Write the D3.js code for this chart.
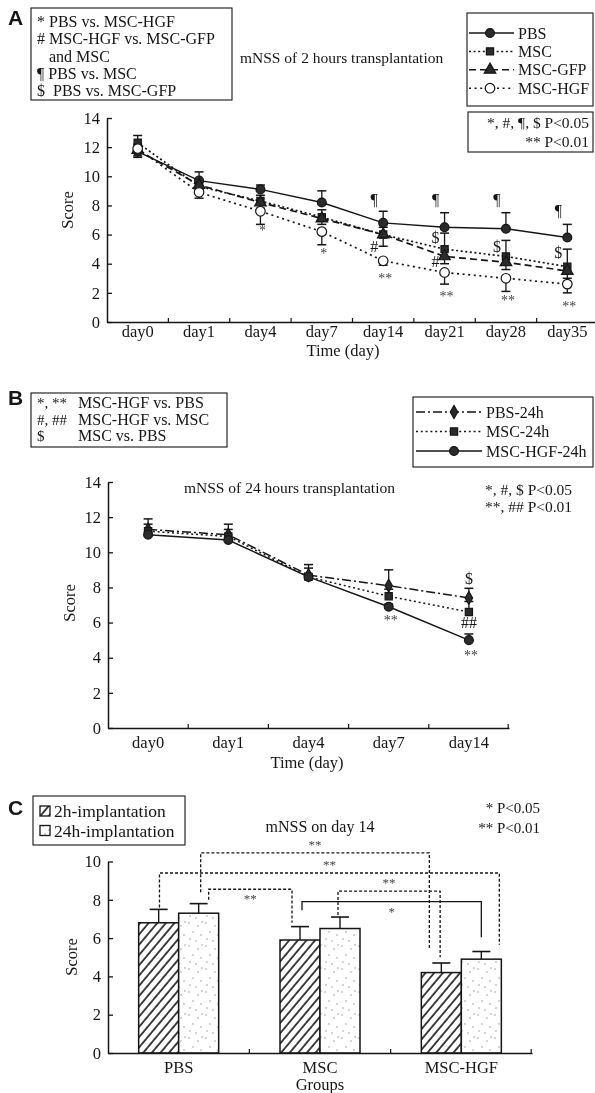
<!DOCTYPE html>
<html><head><meta charset="utf-8">
<script src="https://cdn.jsdelivr.net/npm/d3@7"></script>
<style>
html,body{margin:0;padding:0;background:#fff;}
#chart{filter:grayscale(100%);}
</style></head><body>
<svg id="chart" width="595" height="1093"></svg>
<script>
// ================= DATA =================
// Panel A: mNSS of 2 hours transplantation
const daysA   = ["day0","day1","day4","day7","day14","day21","day28","day35"];
const pbsA    = [11.7, 9.7, 9.1, 8.2, 6.8, 6.5, 6.4, 5.8];
const mscA    = [12.3, 9.3, 8.3, 7.2, 6.0, 5.0, 4.5, 3.8];
const gfpA    = [11.8, 9.4, 8.2, 7.1, 6.0, 4.5, 4.1, 3.5];
const hgfA    = [11.9, 8.9, 7.6, 6.2, 4.2, 3.4, 3.0, 2.6];
const pbsAErr = [0.5, 0.6, 0.3, 0.8, 0.8, 1.0, 1.1, 0.9];
const mscAErr = [0.5, 0.4, 0.4, 0.5, 0.5, 1.1, 1.1, 1.2];
const gfpAErr = [0.4, 0.3, 0.4, 0.4, 0.8, 0.5, 0.5, 0.5];
const hgfAErr = [0.6, 0.4, 0.9, 0.9, 0.3, 0.8, 0.9, 0.6];
const yTicksA = [0, 2, 4, 6, 8, 10, 12, 14];
const annotA  = [["day4","*",6.5],["day7","*",4.9],["day14","**",3.2],["day21","**",2.0],
                 ["day28","**",1.7],["day35","**",1.3],
                 ["day14","¶",8.4],["day21","¶",8.4],["day28","¶",8.4],["day35","¶",7.7],
                 ["day21","$",5.8],["day28","$",5.2],["day35","$",4.8],
                 ["day14","#",5.2],["day21","#",4.2]];
const namesA  = ["PBS","MSC","MSC-GFP","MSC-HGF"];
const compA   = ["* PBS vs. MSC-HGF","# MSC-HGF vs. MSC-GFP","   and MSC","¶ PBS vs. MSC","$  PBS vs. MSC-GFP"];
const pA      = ["*, #, ¶, $ P<0.05","** P<0.01"];

// Panel B: mNSS of 24 hours transplantation
const daysB   = ["day0","day1","day4","day7","day14"];
const pbsB    = [11.3, 11.0, 8.7, 8.1, 7.4];
const mscB    = [11.2, 10.9, 8.6, 7.5, 6.6];
const hgfB    = [11.0, 10.7, 8.6, 6.9, 5.0];
const pbsBErr = [0.6, 0.6, 0.6, 0.9, 0.55];
const mscBErr = [0.4, 0.4, 0.5, 0.4, 0.6];
const hgfBErr = [0.15, 0.15, 0.15, 0.15, 0.35];
const yTicksB = [0, 2, 4, 6, 8, 10, 12, 14];
const annotB  = [["day7","**",6.3],["day14","$",8.5],["day14","##",6.0],["day14","**",4.3]];
const namesB  = ["PBS-24h","MSC-24h","MSC-HGF-24h"];
const compB   = [["*, **","MSC-HGF vs. PBS"],["#, ##","MSC-HGF vs. MSC"],["$","MSC vs. PBS"]];
const pB      = ["*, #, $ P<0.05","**, ## P<0.01"];

// Panel C: mNSS on day 14
const groupsC = ["PBS","MSC","MSC-HGF"];
const h2C     = [6.8, 5.9, 4.2];
const h24C    = [7.3, 6.5, 4.9];
const h2CErr  = [0.7, 0.7, 0.5];
const h24CErr = [0.5, 0.6, 0.4];
const yTicksC = [0, 2, 4, 6, 8, 10];
const seriesC = ["2h-implantation","24h-implantation"];
// significance brackets: [from group, from series(0=2h,1=24h), to group, to series, bracket level, label, dotted?]
const bracketsC = [
  ["PBS",1,"MSC-HGF",0,10.45,"**",true],
  ["PBS",0,"MSC-HGF",1,9.4,"**",true],
  ["PBS",1,"MSC",0,8.55,"**",true],
  ["MSC",1,"MSC-HGF",0,8.45,"**",true],
  ["MSC",0,"MSC-HGF",1,7.9,"*",false]
];
const legBottomsC = [[8.4,5.4],[7.6,5.65],[8.0,6.8],[7.2,5.0],[7.45,6.05]];
const pC      = ["* P<0.05","** P<0.01"];

// ================= DRAWING =================
const INK = "#151515";
const SERIF = '"Liberation Serif","Times New Roman",serif';
const SANS = '"Liberation Sans",Arial,sans-serif';
const svg = d3.select("#chart");
svg.append("rect").attr("width",595).attr("height",1093).attr("fill","#fff");

// patterns
const defs = svg.append("defs");
const hatch = defs.append("pattern").attr("id","hatch").attr("patternUnits","userSpaceOnUse")
  .attr("width",6.6).attr("height",6.6).attr("patternTransform","rotate(40)");
hatch.append("rect").attr("width",6.6).attr("height",6.6).attr("fill","#fff");
hatch.append("line").attr("x1",1).attr("x2",1).attr("y1",0).attr("y2",6.6).attr("stroke",INK).attr("stroke-width",1.6);
const dots = defs.append("pattern").attr("id","dots").attr("patternUnits","userSpaceOnUse")
  .attr("width",17).attr("height",23);
dots.append("rect").attr("width",17).attr("height",23).attr("fill","#fff");
[[2,3],[11,6],[6,12],[14,15],[3,19],[9,21],[15,2]].forEach(p=>{
  dots.append("circle").attr("cx",p[0]).attr("cy",p[1]).attr("r",0.7).attr("fill","#8a8a8a");
});

function txt(g,x,y,s,o={}){
  return g.append("text").attr("x",x).attr("y",y).text(s)
    .attr("font-family",o.ff||SERIF).attr("font-size",o.fs||16)
    .attr("text-anchor",o.anchor||"start").attr("font-weight",o.fw||"normal")
    .attr("fill",o.fill||INK).style("white-space","pre");
}
function box(g,x0,y0,x1,y1){
  g.append("rect").attr("x",x0).attr("y",y0).attr("width",x1-x0).attr("height",y1-y0)
    .attr("fill","none").attr("stroke",INK).attr("stroke-width",1.1);
}
function axes(g,x,y,yTicks,xPad){
  const gy = g.append("g").attr("transform",`translate(${x.range()[0]},0)`)
    .call(d3.axisLeft(y).tickValues(yTicks).tickSizeInner(-5).tickSizeOuter(0).tickPadding(7));
  gy.attr("font-family",SERIF).attr("font-size",16.5);
  gy.select(".domain").attr("stroke",INK).attr("stroke-width",1.5);
  gy.selectAll(".tick line").attr("stroke",INK).attr("stroke-width",1.3);
  gy.selectAll(".tick text").attr("fill",INK);
  const gx = g.append("g").attr("transform",`translate(0,${y.range()[0]})`)
    .call(d3.axisBottom(x).tickSize(0).tickPadding(xPad));
  gx.attr("font-family",SERIF).attr("font-size",16.5);
  gx.select(".domain").attr("stroke",INK).attr("stroke-width",1.5);
  gx.selectAll(".tick text").attr("fill",INK);
  const bounds = x.domain().slice(1).map(d=>x(d)).concat([x.range()[1]-0.8]);
  g.append("g").selectAll("line").data(bounds).join("line")
    .attr("x1",d=>d).attr("x2",d=>d).attr("y1",y.range()[0]).attr("y2",y.range()[0]-4)
    .attr("stroke",INK).attr("stroke-width",1.2);
}
function yTitle(g,x,y,s){
  txt(g,0,0,s,{fs:16.5,anchor:"middle"}).attr("transform",`translate(${x},${y}) rotate(-90)`);
}
const symMap = {circle:d3.symbolCircle,square:d3.symbolSquare,triangle:d3.symbolTriangle,diamond:d3.symbolDiamond,open:d3.symbolCircle};
const symSize = {circle:62,square:52,triangle:58,diamond:48,open:72};
function marker(g,type,x,y){
  g.append("path").attr("d",d3.symbol(symMap[type],symSize[type])())
    .attr("transform",`translate(${x},${y})`)
    .attr("fill",type==="open"?"#fff":"#2b2b2b").attr("stroke",INK).attr("stroke-width",1.2);
}
function errBars(g,x,y,cats,vals,errs,dir,cap){
  cats.forEach((c,i)=>{
    const cx = x(c)+x.bandwidth()/2, y0 = y(vals[i]), y1 = y(vals[i]+dir*errs[i]);
    g.append("line").attr("x1",cx).attr("x2",cx).attr("y1",y0).attr("y2",y1).attr("stroke",INK).attr("stroke-width",1.3);
    g.append("line").attr("x1",cx-cap/2).attr("x2",cx+cap/2).attr("y1",y1).attr("y2",y1).attr("stroke",INK).attr("stroke-width",1.5);
  });
}
function series(g,x,y,cats,vals,dash,width){
  const line = d3.line().x((d,i)=>x(cats[i])+x.bandwidth()/2).y(d=>y(d));
  g.append("path").datum(vals).attr("d",line).attr("fill","none").attr("stroke",INK)
    .attr("stroke-width",width||1.5).attr("stroke-dasharray",dash);
}
function markers(g,x,y,cats,vals,sym){
  cats.forEach((c,i)=>marker(g,sym,x(c)+x.bandwidth()/2,y(vals[i])));
}
function annotate(g,x,y,list,leftShift){
  list.forEach(([c,s,v])=>{
    const star = s.includes("*");
    const fs = star?14:16;
    const cx = x(c)+x.bandwidth()/2 + (star?2:-leftShift);
    txt(g,cx,y(v)+(star?0.55:0.36)*fs,s,{fs:fs,anchor:"middle",fill:star?"#444":INK});
  });
}

// ---------- Panel A ----------
{
  const g = svg.append("g");
  const x = d3.scaleBand().domain(daysA).range([107,598]).padding(0);
  const y = d3.scaleLinear().domain([0,14]).range([322,118]);
  axes(g,x,y,yTicksA,3);
  yTitle(g,73,210,"Score");
  txt(g,343,356,"Time (day)",{fs:16.5,anchor:"middle"});
  const styles = [
    {vals:pbsA,err:pbsAErr,dir:1,dash:null,sym:"circle"},
    {vals:mscA,err:mscAErr,dir:1,dash:"2,2.6",sym:"square"},
    {vals:gfpA,err:gfpAErr,dir:-1,dash:"7,4",sym:"triangle"},
    {vals:hgfA,err:hgfAErr,dir:-1,dash:"2,3.6",sym:"open"}
  ];
  styles.forEach(s=>series(g,x,y,daysA,s.vals,s.dash,s.sym==="circle"?1.4:1.7));
  styles.forEach(s=>errBars(g,x,y,daysA,s.vals,s.err,s.dir,9));
  styles.forEach(s=>markers(g,x,y,daysA,s.vals,s.sym));
  annotate(g,x,y,annotA,9);
  txt(g,240,63,"mNSS of 2 hours transplantation",{fs:15.5});
  txt(g,8,25,"A",{ff:SANS,fs:21,fw:"bold"});
  box(g,31,8,232,100);
  compA.forEach((s,i)=>txt(g,37,27+i*17.3,s,{fs:16}));
  box(g,467,13,593,106);
  namesA.forEach((n,i)=>{
    const yy = 33+i*18.4;
    g.append("line").attr("x1",469).attr("x2",514).attr("y1",yy).attr("y2",yy).attr("stroke",INK)
      .attr("stroke-width",1.5).attr("stroke-dasharray",styles[i].dash);
    marker(g,styles[i].sym,490,yy);
    txt(g,518,yy+5.5,n,{fs:16});
  });
  box(g,468,112,593,152);
  txt(g,589,128,pA[0],{fs:15.5,anchor:"end"});
  txt(g,589,147,pA[1],{fs:15.5,anchor:"end"});
}

// ---------- Panel B ----------
{
  const g = svg.append("g");
  const x = d3.scaleBand().domain(daysB).range([108,509]).padding(0);
  const y = d3.scaleLinear().domain([0,14]).range([728,482]);
  axes(g,x,y,yTicksB,8);
  yTitle(g,75,603,"Score");
  txt(g,307,768,"Time (day)",{fs:16.5,anchor:"middle"});
  const styles = [
    {vals:pbsB,err:pbsBErr,dash:"9,3,2,3",sym:"diamond"},
    {vals:mscB,err:mscBErr,dash:"2,2.8",sym:"square"},
    {vals:hgfB,err:hgfBErr,dash:null,sym:"circle"}
  ];
  styles.forEach(s=>series(g,x,y,daysB,s.vals,s.dash,1.5));
  styles.forEach(s=>errBars(g,x,y,daysB,s.vals,s.err,1,9));
  styles.forEach(s=>markers(g,x,y,daysB,s.vals,s.sym));
  annotate(g,x,y,annotB,0);
  txt(g,184,493,"mNSS of 24 hours transplantation",{fs:15.5});
  txt(g,8,405,"B",{ff:SANS,fs:21,fw:"bold"});
  box(g,31,393,227,447);
  compB.forEach((r,i)=>{ txt(g,37,408+i*16.5,r[0],{fs:15}); txt(g,78,408+i*16.5,r[1],{fs:16}); });
  box(g,413,397,593,467);
  namesB.forEach((n,i)=>{
    const yy = 412+i*19.5;
    g.append("line").attr("x1",416).attr("x2",482).attr("y1",yy).attr("y2",yy).attr("stroke",INK)
      .attr("stroke-width",1.5).attr("stroke-dasharray",styles[i].dash);
    marker(g,styles[i].sym,454,yy);
    txt(g,486,yy+5.5,n,{fs:16});
  });
  txt(g,485,495,pB[0],{fs:15.5});
  txt(g,485,512,pB[1],{fs:15.5});
}

// ---------- Panel C ----------
{
  const g = svg.append("g");
  const x = d3.scaleBand().domain(groupsC).range([108,532]).padding(0);
  const y = d3.scaleLinear().domain([0,10]).range([1053,861.5]);
  const BW = 40;
  const barX = (grp,s)=>x(grp)+x.bandwidth()/2-BW+s*BW;
  const vals = [h2C,h24C], errs=[h2CErr,h24CErr], fills=["url(#hatch)","url(#dots)"];
  [0,1].forEach(s=>{
    g.append("g").selectAll("rect").data(groupsC).join("rect")
      .attr("x",d=>barX(d,s)).attr("width",BW)
      .attr("y",(d,i)=>y(vals[s][i])).attr("height",(d,i)=>y(0)-y(vals[s][i]))
      .attr("fill",fills[s]).attr("stroke",INK).attr("stroke-width",1.5);
    groupsC.forEach((grp,i)=>{
      const cx = barX(grp,s)+BW/2, y0=y(vals[s][i]), y1=y(vals[s][i]+errs[s][i]);
      g.append("line").attr("x1",cx).attr("x2",cx).attr("y1",y0).attr("y2",y1).attr("stroke",INK).attr("stroke-width",1.4);
      g.append("line").attr("x1",cx-9).attr("x2",cx+9).attr("y1",y1).attr("y2",y1).attr("stroke",INK).attr("stroke-width",1.6);
    });
  });
  axes(g,x,y,yTicksC,8);
  yTitle(g,77,957,"Score");
  txt(g,320,1090,"Groups",{fs:16.5,anchor:"middle"});
  const legFrac = [[0.55,0.2],[0.52,0.95],[0.75,0.3],[0.45,0.47],[0.55,0.5]];
  const labelBelow = [false,false,true,false,true];
  bracketsC.forEach((b,k)=>{
    const [g1,s1,g2,s2,lvl,lab,dotted] = b;
    const xa = barX(g1,s1)+legFrac[k][0]*BW, xb = barX(g2,s2)+legFrac[k][1]*BW;
    const yl = y(lvl);
    g.append("path").attr("d",`M${xa},${y(legBottomsC[k][0])}V${yl}H${xb}V${y(legBottomsC[k][1])}`)
      .attr("fill","none").attr("stroke",INK).attr("stroke-width",1.3)
      .attr("stroke-dasharray",dotted?"3,2":null);
    const mx = (xa+xb)/2;
    txt(g,mx,labelBelow[k]?yl+14:yl-4,lab,{fs:13,anchor:"middle",fill:"#444"});
  });
  txt(g,320,832,"mNSS on day 14",{fs:16,anchor:"middle"});
  txt(g,8,815,"C",{ff:SANS,fs:21,fw:"bold"});
  box(g,33,796,185,845);
  seriesC.forEach((n,i)=>{
    const yy = 811+i*19.5;
    g.append("rect").attr("x",40).attr("y",yy-5).attr("width",10).attr("height",10)
      .attr("fill",fills[i]).attr("stroke",INK).attr("stroke-width",1.3);
    txt(g,54,yy+6,n,{fs:17.5});
  });
  txt(g,540,813,pC[0],{fs:15,anchor:"end"});
  txt(g,540,833,pC[1],{fs:15,anchor:"end"});
}
</script>
</body></html>
